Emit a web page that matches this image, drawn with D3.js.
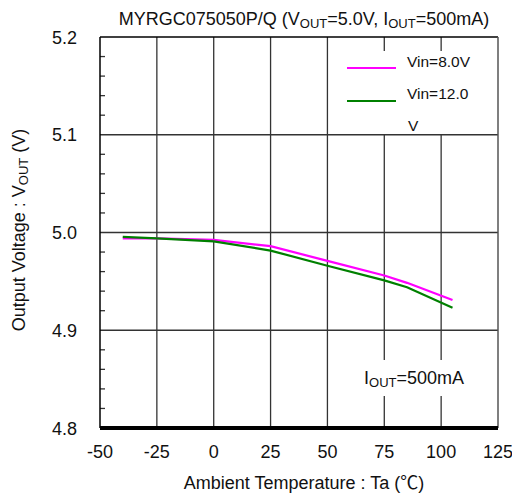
<!DOCTYPE html>
<html><head><meta charset="utf-8">
<script src="https://cdn.jsdelivr.net/npm/d3@7"></script>
<style>body{margin:0;background:#fff}svg{display:block}text{font-family:"Liberation Sans",Arial,sans-serif;fill:#111}</style>
</head><body>
<svg id="c" width="512" height="496"></svg>
<script>
const temps = [-40, -25, 0, 25, 50, 75, 85, 105];
const vin8 = [4.994, 4.994, 4.9925, 4.986, 4.971, 4.956, 4.9485, 4.931];
const vin12 = [4.9955, 4.994, 4.991, 4.9815, 4.966, 4.951, 4.944, 4.923];
const xTicks = [-50, -25, 0, 25, 50, 75, 100, 125];
const yTicks = [4.8, 4.9, 5.0, 5.1, 5.2];
const seriesNames = ["Vin=8.0V", "Vin=12.0"];
const seriesColors = ["#ff00ff", "#008000"];

const svg = d3.select("#c");
const L = 100, R = 498, T = 37, B = 428;
const x = d3.scaleLinear().domain([-50, 125]).range([L, R]);
const y = d3.scaleLinear().domain([4.8, 5.2]).range([B, T]);

// grid
const g = svg.append("g");
g.selectAll(".vg").data(xTicks.slice(1, -1)).join("line")
  .attr("x1", d => x(d)).attr("x2", d => x(d)).attr("y1", T).attr("y2", B)
  .attr("stroke", "#333").attr("stroke-width", 1.3);
g.selectAll(".hg").data(yTicks.slice(1, -1)).join("line")
  .attr("x1", L).attr("x2", R).attr("y1", d => y(d)).attr("y2", d => y(d))
  .attr("stroke", "#333").attr("stroke-width", 1.3);
// minor ticks
const minor = d3.range(4.82, 5.2, 0.02).filter(v => Math.abs(Math.round(v * 10) - v * 10) > 0.01);
g.selectAll(".mt").data(minor).join("line")
  .attr("x1", L).attr("x2", L + 5).attr("y1", d => y(d)).attr("y2", d => y(d))
  .attr("stroke", "#333").attr("stroke-width", 1.3);

// frame
svg.append("line").attr("x1", L).attr("x2", R).attr("y1", T).attr("y2", T).attr("stroke", "#000").attr("stroke-width", 1.5);
svg.append("line").attr("x1", R).attr("x2", R).attr("y1", T).attr("y2", B).attr("stroke", "#555").attr("stroke-width", 1.5);
svg.append("line").attr("x1", L).attr("x2", L).attr("y1", T).attr("y2", B).attr("stroke", "#000").attr("stroke-width", 1.5);

// legend box (white)
svg.append("rect").attr("x", 340).attr("y", 51).attr("width", R - 341).attr("height", 83).attr("fill", "#fff");
// I_OUT label box
svg.append("rect").attr("x", 352).attr("y", 360).attr("width", 125).attr("height", 36).attr("fill", "#fff");

// lines
const line = d3.line().x(d => x(d[0])).y(d => y(d[1]));
[vin8, vin12].forEach((s, i) => {
  svg.append("path").datum(temps.map((t, j) => [t, s[j]]))
    .attr("d", line).attr("fill", "none").attr("stroke", seriesColors[i]).attr("stroke-width", 2.2);
});

// bottom thick axis
svg.append("line").attr("x1", L).attr("x2", R).attr("y1", B).attr("y2", B).attr("stroke", "#000").attr("stroke-width", 4);

// tick labels
svg.selectAll(".xl").data(xTicks).join("text")
  .attr("x", d => x(d)).attr("y", 457.5).attr("text-anchor", "middle").attr("font-size", 18).text(d => d);
svg.selectAll(".yl").data(yTicks).join("text")
  .attr("x", 77).attr("y", d => y(d) + 6.5).attr("text-anchor", "end").attr("font-size", 18).text(d => d.toFixed(1));

// legend
const ly = [68, 101];
const lty = [66.5, 98.5];
seriesNames.forEach((n, i) => {
  svg.append("line").attr("x1", 347).attr("x2", 396).attr("y1", ly[i]).attr("y2", ly[i])
    .attr("stroke", seriesColors[i]).attr("stroke-width", 2.2);
  svg.append("text").attr("x", 407).attr("y", lty[i]).attr("font-size", 15.5).text(n);
});
svg.append("text").attr("x", 408).attr("y", 130.5).attr("font-size", 15.5).text("V");

// I_OUT label
const io = svg.append("text").attr("x", 364).attr("y", 384).attr("font-size", 18);
io.append("tspan").text("I");
io.append("tspan").attr("font-size", 13).attr("dy", 3).text("OUT");
io.append("tspan").attr("dy", -3).text("=500mA");

// title
const t = svg.append("text").attr("x", 304).attr("y", 24.5).attr("text-anchor", "middle").attr("font-size", 18);
t.append("tspan").text("MYRGC075050P/Q (V");
t.append("tspan").attr("font-size", 13).attr("dy", 3).text("OUT");
t.append("tspan").attr("dy", -3).text("=5.0V, I");
t.append("tspan").attr("font-size", 13).attr("dy", 3).text("OUT");
t.append("tspan").attr("dy", -3).text("=500mA)");

// x title
const xt = svg.append("text").attr("x", 304).attr("y", 488.5).attr("text-anchor", "middle").attr("font-size", 18);
xt.append("tspan").text("Ambient Temperature : Ta (");
xt.append("tspan").attr("font-family", "Noto Sans CJK JP").text("℃");
xt.append("tspan").text(")");

// y title
const yt = svg.append("text").attr("transform", "translate(24.5,230) rotate(-90)").attr("text-anchor", "middle").attr("font-size", 18);
yt.append("tspan").text("Output Voltage : V");
yt.append("tspan").attr("font-size", 13).attr("dy", 3).text("OUT");
yt.append("tspan").attr("dy", -3).text(" (V)");
</script>
</body></html>
